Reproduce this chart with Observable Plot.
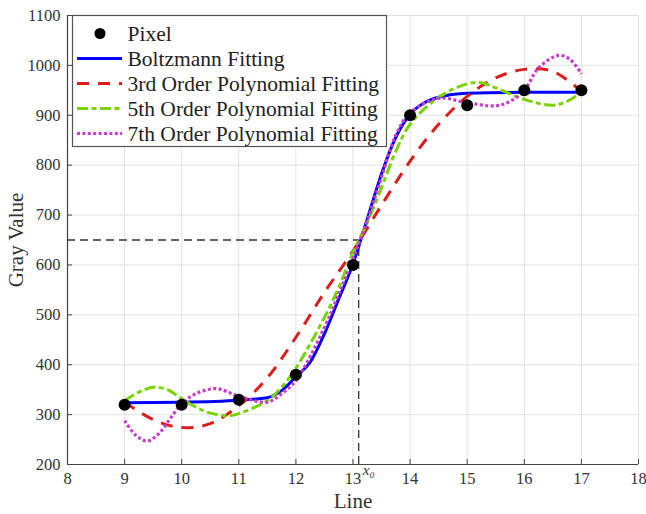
<!DOCTYPE html>
<html><head><meta charset="utf-8">
<script src="https://cdn.jsdelivr.net/npm/d3@7"></script>
<script src="https://cdn.jsdelivr.net/npm/@observablehq/plot@0.6"></script>
<style>
body{margin:0;background:#fff}
#chart{position:relative;width:646px;height:514px}
</style>
</head><body><div id="chart"></div>
<script>
// Measured pixels
const pixelX = [9, 10, 11, 12, 13, 14, 15, 16, 17];
const pixelY = [320, 320, 330, 380, 600, 900, 920, 950, 950];

// Boltzmann fitting curve
const boltzX = [9, 10, 11, 11.5, 11.75, 12, 12.25, 12.5, 12.75, 13, 13.25, 13.5, 13.75, 14, 14.25, 14.5, 15, 16, 17];
const boltzY = [324, 325, 329, 334, 348, 376, 405, 462, 532, 602, 692, 783, 856, 902, 925, 936, 944, 946, 946];

// 3rd order polynomial fitting
const poly3X = [9, 9.5, 10, 10.5, 11, 11.5, 12, 12.5, 13, 13.5, 14, 14.5, 15, 15.5, 16, 16.5, 17];
const poly3Y = [325, 290, 274, 282, 318, 374, 455, 545, 628, 720, 808, 882, 938, 975, 992, 988, 948];

// 5th order polynomial fitting
const poly5X = [9, 9.25, 9.5, 9.75, 10, 10.25, 10.5, 10.85, 11, 11.5, 11.75, 12, 12.5, 12.75, 13, 13.25, 13.5, 13.75, 14, 14.5, 15, 15.25, 15.5, 16, 16.5, 16.75, 17];
const poly5Y = [328, 345, 355, 350, 332, 315, 303, 298, 302, 328, 355, 393, 495, 555, 625, 685, 755, 828, 882, 936, 963, 965, 955, 932, 920, 928, 946];

// 7th order polynomial fitting
const poly7X = [9, 9.2, 9.4, 9.6, 9.8, 10, 10.25, 10.6, 11, 11.5, 11.75, 12, 12.5, 12.75, 13, 13.25, 13.5, 13.75, 14, 14.5, 15, 15.5, 15.75, 16, 16.25, 16.6, 16.8, 17];
const poly7Y = [288, 258, 247, 262, 292, 322, 342, 352, 337, 325, 342, 368, 475, 542, 612, 689, 776, 860, 905, 934, 925, 919, 928, 950, 995, 1020, 1012, 983];

// Reference point x0
const x0X = [13.1];
const x0Y = [650];

const xTicks = [8, 9, 10, 11, 12, 13, 14, 15, 16, 17, 18];
const yTicks = [200, 300, 400, 500, 600, 700, 800, 900, 1000, 1100];

const seriesNames = ["Pixel", "Boltzmann Fitting", "3rd Order Polynomial Fitting", "5th Order Polynomial Fitting", "7th Order Polynomial Fitting"];
const seriesColors = ["#000000", "#0000ff", "#dd1c1c", "#77d400", "#c83cc8"];
const seriesDash = [null, null, "12,9", "11,3.5,5,3.5", "3,2.4"];

const zip = (xs, ys) => xs.map((x, i) => ({x, y: ys[i]}));
const pixels = zip(pixelX, pixelY);
const curves = [zip(boltzX, boltzY), zip(poly3X, poly3Y), zip(poly5X, poly5Y), zip(poly7X, poly7Y)];
const ref = {x: x0X[0], y: x0Y[0]};

const font = "'Liberation Serif', 'Times New Roman', serif";
const axisColor = "#444";

const lineMarks = curves.map((data, i) => Plot.line(data, {
  x: "x", y: "y",
  stroke: seriesColors[i + 1],
  strokeWidth: i === 3 ? 3.2 : 3,
  strokeDasharray: seriesDash[i + 1],
  strokeLinecap: "butt",
  curve: i === 0 ? "monotone-x" : "catmull-rom"
}));

const chart = Plot.plot({
  width: 646, height: 514,
  marginLeft: 67, marginRight: 8, marginTop: 15, marginBottom: 50,
  style: {fontFamily: font, fontSize: "16px", color: "#333", background: "#fff"},
  x: {domain: [xTicks[0], xTicks[xTicks.length - 1]]},
  y: {domain: [yTicks[0], yTicks[yTicks.length - 1]]},
  marks: [
    Plot.gridX(xTicks, {stroke: "#e2e2e2", strokeOpacity: 1}),
    Plot.gridY(yTicks, {stroke: "#e2e2e2", strokeOpacity: 1}),
    Plot.axisX(xTicks, {tickSize: 0, tickPadding: 8, fontSize: 16.5, fontFamily: font, fill: "#333", label: null, tickFormat: d => String(d)}),
    Plot.axisY(yTicks, {tickSize: 0, tickPadding: 7, fontSize: 16.5, fontFamily: font, fill: "#333", label: null, tickFormat: d => String(d)}),
    Plot.axisX(xTicks, {tickSize: -5, stroke: axisColor, tickFormat: () => "", label: null}),
    Plot.axisY(yTicks, {tickSize: -5, stroke: axisColor, tickFormat: () => "", label: null}),
    Plot.ruleY([yTicks[0]], {stroke: axisColor, strokeWidth: 1.2}),
    Plot.ruleX([xTicks[0]], {stroke: axisColor, strokeWidth: 1.2}),
    Plot.ruleY([ref], {y: "y", x1: xTicks[0], x2: "x", stroke: "#333", strokeWidth: 1.3, strokeDasharray: "8,5"}),
    Plot.ruleX([ref], {x: "x", y1: yTicks[0], y2: "y", stroke: "#333", strokeWidth: 1.3, strokeDasharray: "8,5"}),
    ...lineMarks,
    Plot.dot(pixels, {x: "x", y: "y", r: 6, fill: "#000", stroke: "none"}),
    Plot.text([ref], {x: "x", y: () => yTicks[0], text: () => "x\u2080", dx: 10, dy: 6, fontStyle: "italic", fontFamily: font, fontSize: 15, fill: "#333"}),
    Plot.text(["Gray Value"], {frameAnchor: "left", textAnchor: "middle", lineAnchor: "middle", dx: -51, rotate: -90, fontFamily: font, fontSize: 21, fill: "#333"}),
    Plot.text(["Line"], {frameAnchor: "bottom", textAnchor: "middle", lineAnchor: "middle", dy: 37, fontFamily: font, fontSize: 21, fill: "#333"})
  ]
});

document.getElementById("chart").appendChild(chart);

// Legend inside the plot (upper left)
const svg = d3.select(chart);
const lg = svg.append("g").attr("transform", "translate(72.5,15.5)");
lg.append("rect").attr("width", 314).attr("height", 131).attr("fill", "#fff").attr("stroke", "#555").attr("stroke-width", 1.2);
seriesNames.forEach((name, i) => {
  const yc = 18 + i * 25;
  const row = lg.append("g").attr("transform", `translate(0,${yc})`);
  if (i === 0) {
    row.append("circle").attr("cx", 27.5).attr("cy", 0).attr("r", 5.5).attr("fill", "#000");
  } else {
    row.append("line").attr("x1", 4.5).attr("x2", 49.5).attr("y1", 0).attr("y2", 0)
      .attr("stroke", seriesColors[i]).attr("stroke-width", 3)
      .attr("stroke-dasharray", seriesDash[i]);
  }
  row.append("text").attr("x", 55).attr("y", 0).attr("dy", "0.35em")
    .attr("text-anchor", "start")
    .attr("font-family", font).attr("font-size", 21.5).attr("fill", "#222").text(name);
});
</script>
</body></html>
